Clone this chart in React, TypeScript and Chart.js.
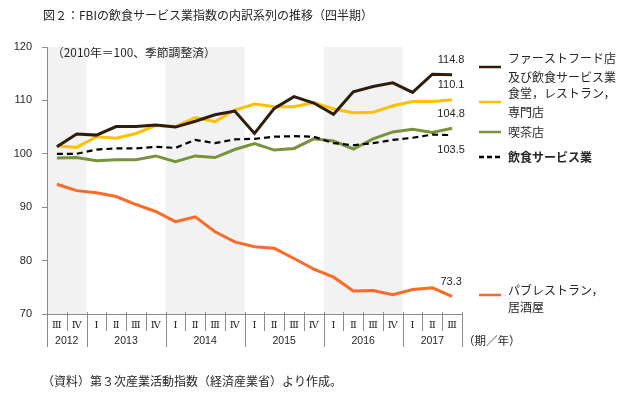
import React, { useEffect, useRef } from "react";
import { Chart, registerables } from "chart.js";

Chart.register(...registerables);

// ---- data ----
const quarters = ["Ⅲ", "Ⅳ", "Ⅰ", "Ⅱ", "Ⅲ", "Ⅳ", "Ⅰ", "Ⅱ", "Ⅲ", "Ⅳ", "Ⅰ", "Ⅱ", "Ⅲ", "Ⅳ", "Ⅰ", "Ⅱ", "Ⅲ", "Ⅳ", "Ⅰ", "Ⅱ", "Ⅲ"];
const years = ["2012", "2013", "2014", "2015", "2016", "2017"];
const quartersPerYear = [2, 4, 4, 4, 4, 3];

const fastFood = [101.3, 103.7, 103.5, 105.1, 105.1, 105.4, 105.0, 106.1, 107.3, 108.0, 103.8, 108.5, 110.7, 109.5, 107.4, 111.6, 112.6, 113.3, 111.5, 114.9, 114.8];
const restaurant = [101.5, 101.2, 103.2, 102.9, 103.8, 105.3, 105.1, 106.8, 106.0, 108.2, 109.3, 108.8, 108.8, 109.6, 108.4, 107.7, 107.8, 109.0, 109.8, 109.8, 110.1];
const cafe = [99.2, 99.3, 98.7, 98.9, 98.9, 99.6, 98.5, 99.6, 99.3, 100.8, 101.9, 100.7, 101.0, 102.8, 102.4, 100.9, 102.8, 104.1, 104.6, 104.0, 104.8];
const foodService = [100.0, 100.0, 100.8, 101.0, 101.0, 101.3, 101.1, 102.6, 102.0, 102.7, 102.8, 103.2, 103.3, 103.2, 102.0, 101.6, 102.0, 102.6, 103.0, 103.6, 103.5];
const pub = [94.3, 93.1, 92.7, 92.0, 90.5, 89.2, 87.3, 88.2, 85.4, 83.5, 82.6, 82.3, 80.4, 78.4, 76.9, 74.3, 74.4, 73.6, 74.6, 74.9, 73.3];

const yTicks = [70, 80, 90, 100, 110, 120];

const titleText = "図２：FBIの飲食サービス業指数の内訳系列の推移（四半期）";
const noteText = "（2010年＝100、季節調整済）";
const sourceText = "（資料）第３次産業活動指数（経済産業省）より作成。";
const axisUnitText = "（期／年）";

const JP = '"Noto Sans CJK JP", "Noto Sans", sans-serif';
const NUM = '"Liberation Sans", Arial, sans-serif';

type Item = {
  lines: string[];
  color: string;
  dash: number[];
  bold: boolean;
  legendY: number;
  textYs: number[];
  labelDy: number;
};

const legendItems: Item[] = [
  { lines: ["ファーストフード店", "及び飲食サービス業"], color: "#2f1d0c", dash: [], bold: false, legendY: 67, textYs: [58, 77], labelDy: -15 },
  { lines: ["食堂，レストラン，", "専門店"], color: "#ffc000", dash: [], bold: false, legendY: 102, textYs: [93, 112], labelDy: -15 },
  { lines: ["喫茶店"], color: "#77933c", dash: [], bold: false, legendY: 132, textYs: [132], labelDy: -14 },
  { lines: ["飲食サービス業"], color: "#000000", dash: [5, 3], bold: true, legendY: 157, textYs: [157], labelDy: 15 },
  { lines: ["パブレストラン，", "居酒屋"], color: "#ff6a28", dash: [], bold: false, legendY: 295, textYs: [290, 307], labelDy: -14 },
];

const seriesData = [fastFood, restaurant, cafe, foodService, pub];
const drawOrder = [0, 3, 2, 1, 4];

const decorPlugin = {
  id: "decor",
  beforeDraw(chart: any) {
    const { ctx, chartArea } = chart;
    const x = chart.scales.x;
    const w = x.getPixelForValue(1) - x.getPixelForValue(0);
    ctx.save();
    ctx.fillStyle = "#f2f2f2";
    let start = 0;
    quartersPerYear.forEach((n, yi) => {
      if (yi % 2 === 0) {
        const l = x.getPixelForValue(start) - w / 2;
        const r = x.getPixelForValue(start + n - 1) + w / 2;
        ctx.fillRect(l, chartArea.top, r - l, chartArea.bottom - chartArea.top);
      }
      start += n;
    });
    ctx.restore();
  },
  afterDraw(chart: any) {
    const { ctx, chartArea } = chart;
    const x = chart.scales.x;
    const w = x.getPixelForValue(1) - x.getPixelForValue(0);
    const bottom = chartArea.bottom;
    ctx.save();

    // x-axis separators
    const yearBounds = new Set<number>();
    let acc = 0;
    yearBounds.add(0);
    quartersPerYear.forEach((n) => {
      acc += n;
      yearBounds.add(acc);
    });
    ctx.strokeStyle = "#8c8c8c";
    ctx.lineWidth = 1;
    for (let i = 0; i <= quarters.length; i++) {
      const px = Math.round(x.getPixelForValue(0) - w / 2 + i * w) + 0.5;
      ctx.beginPath();
      ctx.moveTo(px, bottom - 2);
      ctx.lineTo(px, yearBounds.has(i) ? bottom + 33 : bottom + 17);
      ctx.stroke();
    }

    // quarter labels
    ctx.fillStyle = "#262626";
    ctx.textAlign = "center";
    ctx.textBaseline = "middle";
    ctx.font = '10px "DejaVu Serif", serif';
    quarters.forEach((q, i) => {
      ctx.fillText(q, x.getPixelForValue(i), bottom + 11);
    });

    // year labels
    ctx.font = "10.5px " + NUM;
    acc = 0;
    years.forEach((yr, yi) => {
      const n = quartersPerYear[yi];
      const c = (x.getPixelForValue(acc) + x.getPixelForValue(acc + n - 1)) / 2;
      ctx.fillText(yr, c, bottom + 27);
      acc += n;
    });

    // unit text
    ctx.textAlign = "left";
    ctx.font = "11.5px " + JP;
    ctx.fillText(axisUnitText, chartArea.right + 1, bottom + 27);

    // title
    ctx.fillStyle = "#262626";
    ctx.font = "12px " + JP;
    ctx.fillText(titleText, 43, 15);

    // note
    ctx.font = "11.8px " + JP;
    ctx.fillText(noteText, chartArea.left + 5, 53);

    // source
    ctx.font = "12px " + JP;
    ctx.fillText(sourceText, 42, 381);

    // value labels at last points
    ctx.textAlign = "center";
    ctx.font = "11px " + NUM;
    ctx.fillStyle = "#262626";
    const y = chart.scales.y;
    seriesData.forEach((arr, si) => {
      const last = arr.length - 1;
      const px = x.getPixelForValue(last);
      const py = y.getPixelForValue(arr[last]);
      ctx.fillText(arr[last].toFixed(1), px - 1, py + legendItems[si].labelDy);
    });

    // legend
    legendItems.forEach((it) => {
      ctx.save();
      ctx.strokeStyle = it.color;
      ctx.lineWidth = 2.5;
      ctx.setLineDash(it.dash);
      ctx.beginPath();
      ctx.moveTo(479, it.legendY);
      ctx.lineTo(501, it.legendY);
      ctx.stroke();
      ctx.restore();
      ctx.textAlign = "left";
      ctx.fillStyle = "#262626";
      ctx.font = (it.bold ? "bold " : "") + "12px " + JP;
      it.lines.forEach((ln, li) => ctx.fillText(ln, 508, it.textYs[li]));
    });

    ctx.restore();
  },
};

export default function App() {
  const ref = useRef<HTMLCanvasElement | null>(null);
  useEffect(() => {
    if (!ref.current) return;
    const chart = new Chart(ref.current, {
      type: "line",
      data: {
        labels: quarters.map((q, i) => String(i) + q),
        datasets: seriesData.map((arr, si) => ({
          label: legendItems[si].lines.join(""),
          data: arr,
          borderColor: legendItems[si].color,
          borderWidth: legendItems[si].dash.length ? 2.2 : 3,
          borderDash: legendItems[si].dash.length ? [6, 4] : [],
          pointRadius: 0,
          tension: 0,
          fill: false,
          order: drawOrder[si],
        })),
      },
      options: {
        animation: false,
        responsive: true,
        maintainAspectRatio: false,
        layout: { padding: { left: 0, top: 47, right: 178, bottom: 0 } },
        plugins: {
          legend: { display: false },
          title: { display: false },
          tooltip: { enabled: false },
        },
        scales: {
          x: {
            type: "category",
            offset: true,
            grid: { display: false },
            border: { display: true, color: "#8c8c8c", width: 1 },
            ticks: { display: false },
            afterFit(scale: any) {
              scale.height = 84;
            },
          },
          y: {
            min: 70,
            max: 120,
            afterBuildTicks(scale: any) {
              scale.ticks = yTicks.map((v) => ({ value: v }));
            },
            grid: { drawOnChartArea: false, drawTicks: true, tickLength: 5, color: "#8c8c8c" },
            border: { display: true, color: "#8c8c8c", width: 1 },
            ticks: {
              padding: 10,
              color: "#262626",
              font: { family: NUM, size: 11 },
            },
            afterFit(scale: any) {
              scale.width = 47;
            },
          },
        },
      },
      plugins: [decorPlugin],
    });
    return () => chart.destroy();
  }, []);
  return (
    <div style={{ position: "absolute", left: 0, top: 0, width: 640, height: 398 }}>
      <canvas ref={ref} />
    </div>
  );
}
